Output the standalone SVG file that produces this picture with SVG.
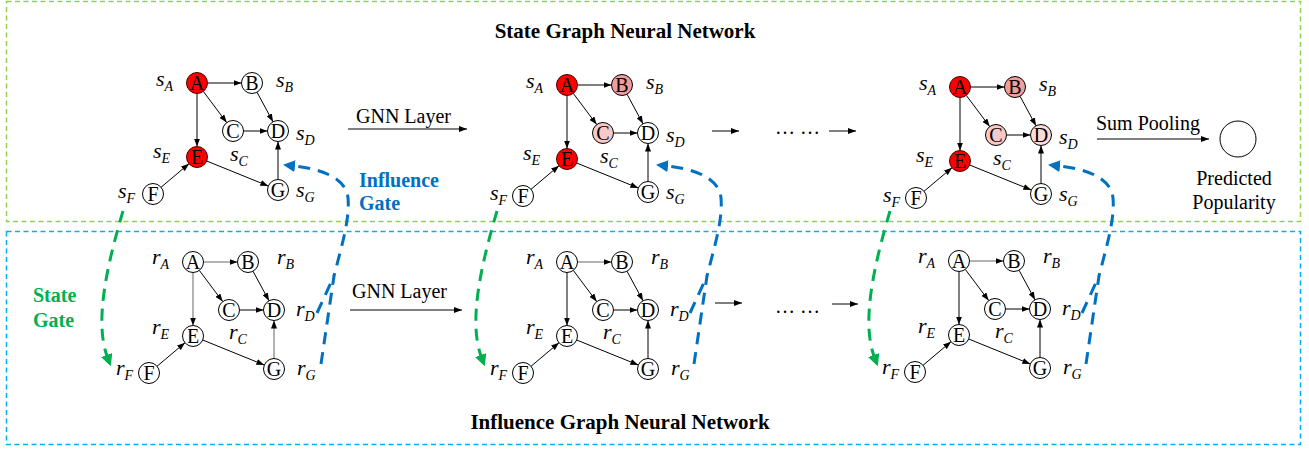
<svg xmlns="http://www.w3.org/2000/svg" width="1309" height="450" viewBox="0 0 1309 450">
<style>
.bg{fill:#ffffff}
.box-s{fill:none;stroke:#92d050;stroke-width:1.5;stroke-dasharray:5 3.5}
.box-i{fill:none;stroke:#00b0f0;stroke-width:1.5;stroke-dasharray:5 3.5}
.title{font-family:"Liberation Serif",serif;font-weight:bold;font-size:21px;fill:#000;text-anchor:middle}
.lbl{font-family:"Liberation Serif",serif;font-size:20px;fill:#000}
.nl{font-family:"Liberation Serif",serif;font-size:20px;fill:#000;text-anchor:middle}
.m{font-family:"Liberation Serif",serif;font-style:italic;font-size:22px;fill:#000}
.sub{font-size:14px}
.n{stroke:#000;stroke-width:1;fill:#fff}
.red{fill:#ff0000;stroke:#400;stroke-width:1}
.p1{fill:#f29c9c;stroke:#000;stroke-width:1}
.p2{fill:#f9c9c9;stroke:#000;stroke-width:1}
.p3{fill:#fcdada;stroke:#000;stroke-width:1}
.e{stroke:#000;stroke-width:1;fill:none;marker-end:url(#ah)}
.eg{stroke:#666;stroke-width:1;fill:none;marker-end:url(#ah)}
.ga{stroke:#000;stroke-width:1;fill:none;marker-end:url(#ah)}
.green{stroke:#00b050;stroke-width:3;fill:none;stroke-dasharray:12 8}
.blue{stroke:#0070c0;stroke-width:3;fill:none;stroke-dasharray:12 8}
.gtxt{font-family:"Liberation Serif",serif;font-weight:bold;font-size:20px;fill:#00b050}
.btxt{font-family:"Liberation Serif",serif;font-weight:bold;font-size:20px;fill:#0070c0}
</style>
<defs>
<marker id="ah" markerWidth="8" markerHeight="6" refX="8" refY="3" orient="auto" markerUnits="userSpaceOnUse"><path d="M0,0 L8,3 L0,6 z" fill="#000"/></marker>
<marker id="ahg" markerWidth="12" markerHeight="12" refX="1" refY="6" orient="auto" markerUnits="userSpaceOnUse"><path d="M0,0 L12,6 L0,12 z" fill="#00b050"/></marker>
<marker id="ahb" markerWidth="12" markerHeight="12" refX="1" refY="6" orient="auto" markerUnits="userSpaceOnUse"><path d="M0,0 L12,6 L0,12 z" fill="#0070c0"/></marker>
</defs>
<rect class="bg" x="0" y="0" width="1309" height="450"/>
<g id="frames">
<rect class="box-s" x="6.5" y="1.5" width="1294" height="220"/>
<rect class="box-i" x="6.5" y="231.5" width="1294" height="213"/>
</g>
<g id="titles">
<text class="title" x="625" y="38">State Graph Neural Network</text>
<text class="title" x="620" y="429">Influence Graph Neural Network</text>
<text class="lbl" x="356" y="123">GNN Layer</text>
<text class="lbl" x="352" y="298">GNN Layer</text>
<text class="lbl" x="1096" y="130">Sum Pooling</text>
<text class="lbl" x="1234" y="185" text-anchor="middle">Predicted</text>
<text class="lbl" x="1234" y="209" text-anchor="middle">Popularity</text>
<text class="lbl" x="775" y="134">… …</text>
<text class="lbl" x="775" y="313">… …</text>
<text class="btxt" x="359" y="187">Influence</text>
<text class="btxt" x="359" y="210">Gate</text>
<text class="gtxt" x="33" y="302">State</text>
<text class="gtxt" x="33" y="327">Gate</text>
</g>
<g id="output-node"><circle class="n" cx="1238" cy="139" r="18"/></g>

<g id="connectors">
<path class="ga" d="M348,129 L467,129"/>
<path class="ga" d="M350,310 L462,310"/>
<path class="ga" d="M712,131 L739,131"/>
<path class="ga" d="M829,131 L856,131"/>
<path class="ga" d="M715,303 L742,303"/>
<path class="ga" d="M832,304 L858,304"/>
<path class="ga" d="M1097,139 L1209,139"/>
<g id="edges-t1" transform="translate(197,83)">
<path class="e" d="M10.5,0 L44.5,0"/><path class="e" d="M6.3,8.4 L29.7,39.6"/><path class="e" d="M0,10.5 L0,63.5"/><path class="e" d="M60,9.2 L76,38.8"/><path class="e" d="M46.5,48 L70.5,48"/><path class="e" d="M9.7,78 L71.3,103"/><path class="e" d="M-36,104.3 L-8,80.7"/><path class="e" d="M81,96.5 L81,58.5"/>
</g>
<g id="edges-t2" transform="translate(567,85)">
<path class="e" d="M10.5,0 L44.5,0"/><path class="e" d="M6.3,8.4 L29.7,39.6"/><path class="e" d="M0,10.5 L0,63.5"/><path class="e" d="M60,9.2 L76,38.8"/><path class="e" d="M46.5,48 L70.5,48"/><path class="e" d="M9.7,78 L71.3,103"/><path class="e" d="M-36,104.3 L-8,80.7"/><path class="e" d="M81,96.5 L81,58.5"/>
</g>
<g id="edges-t3" transform="translate(960,87)">
<path class="e" d="M10.5,0 L44.5,0"/><path class="e" d="M6.3,8.4 L29.7,39.6"/><path class="e" d="M0,10.5 L0,63.5"/><path class="e" d="M60,9.2 L76,38.8"/><path class="e" d="M46.5,48 L70.5,48"/><path class="e" d="M9.7,78 L71.3,103"/><path class="e" d="M-36,104.3 L-8,80.7"/><path class="e" d="M81,96.5 L81,58.5"/>
</g>
<g id="edges-b1" transform="translate(193,262)">
<path class="eg" d="M10.5,0 L44.5,0"/><path class="e" d="M6.3,8.4 L29.7,39.6"/><path class="eg" d="M0,10.5 L0,63.5"/><path class="e" d="M60,9.2 L76,38.8"/><path class="e" d="M46.5,48 L70.5,48"/><path class="e" d="M9.7,78 L71.3,103"/><path class="e" d="M-36,104.3 L-8,80.7"/><path class="eg" d="M81,96.5 L81,58.5"/>
</g>
<g id="edges-b2" transform="translate(567,262)">
<path class="eg" d="M10.5,0 L44.5,0"/><path class="e" d="M6.3,8.4 L29.7,39.6"/><path class="e" d="M0,10.5 L0,63.5"/><path class="e" d="M60,9.2 L76,38.8"/><path class="e" d="M46.5,48 L70.5,48"/><path class="e" d="M9.7,78 L71.3,103"/><path class="e" d="M-36,104.3 L-8,80.7"/><path class="e" d="M81,96.5 L81,58.5"/>
</g>
<g id="edges-b3" transform="translate(959,261)">
<path class="eg" d="M10.5,0 L44.5,0"/><path class="e" d="M6.3,8.4 L29.7,39.6"/><path class="e" d="M0,10.5 L0,63.5"/><path class="e" d="M60,9.2 L76,38.8"/><path class="e" d="M46.5,48 L70.5,48"/><path class="e" d="M9.7,78 L71.3,103"/><path class="e" d="M-36,104.3 L-8,80.7"/><path class="e" d="M81,96.5 L81,58.5"/>
</g>
<g id="gates-1">
<path class="green" d="M123,211 C108,262 94,320 107,356" marker-end="url(#ahg)"/>
<path class="blue" d="M321,364 L334,276 C341,248 350,220 348,198 C346,178 322,169 294,166" marker-end="url(#ahb)"/>
<path class="blue" d="M317,313 L334,276"/>
</g>
<g id="gates-2" transform="translate(374,0)">
<path class="green" d="M123,211 C108,262 94,320 107,356" marker-end="url(#ahg)"/>
</g>
<g id="gates-2b" transform="translate(373,0)">
<path class="blue" d="M321,364 L334,276 C341,248 350,220 348,198 C346,178 322,169 294,166" marker-end="url(#ahb)"/>
<path class="blue" d="M317,313 L334,276"/>
</g>
<g id="gates-3" transform="translate(767,0)">
<path class="green" d="M123,211 C108,262 94,320 107,356" marker-end="url(#ahg)"/>
</g>
<g id="gates-3b" transform="translate(765,0)">
<path class="blue" d="M321,364 L334,276 C341,248 350,220 348,198 C346,178 322,169 294,166" marker-end="url(#ahb)"/>
<path class="blue" d="M317,313 L334,276"/>
</g>
</g>

<g id="state-graph-1" transform="translate(197,83)">
<g id="t1-A"><circle class="red" cx="0" cy="0" r="10.5"/><text class="nl" x="0" y="6.8">A</text></g>
<g id="t1-B"><circle class="n" cx="55" cy="0" r="10.5"/><text class="nl" x="55" y="6.8">B</text></g>
<g id="t1-C"><circle class="n" cx="36" cy="48" r="10.5"/><text class="nl" x="36" y="54.8">C</text></g>
<g id="t1-D"><circle class="n" cx="81" cy="48" r="10.5"/><text class="nl" x="81" y="54.8">D</text></g>
<g id="t1-E"><circle class="red" cx="0" cy="74" r="10.5"/><text class="nl" x="0" y="80.8">E</text></g>
<g id="t1-F"><circle class="n" cx="-44" cy="111" r="10.5"/><text class="nl" x="-44" y="117.8">F</text></g>
<g id="t1-G"><circle class="n" cx="81" cy="107" r="10.5"/><text class="nl" x="81" y="113.8">G</text></g>
<text class="m" x="-41" y="3">s<tspan class="sub" dy="5">A</tspan></text>
<text class="m" x="79" y="4">s<tspan class="sub" dy="5">B</tspan></text>
<text class="m" x="99" y="57">s<tspan class="sub" dy="5">D</tspan></text>
<text class="m" x="-44" y="75">s<tspan class="sub" dy="5">E</tspan></text>
<text class="m" x="33" y="78">s<tspan class="sub" dy="5">C</tspan></text>
<text class="m" x="-79" y="115">s<tspan class="sub" dy="5">F</tspan></text>
<text class="m" x="99" y="114">s<tspan class="sub" dy="5">G</tspan></text>
</g>

<g id="state-graph-2" transform="translate(567,85)">
<g id="t2-A"><circle class="red" cx="0" cy="0" r="10.5"/><text class="nl" x="0" y="6.8">A</text></g>
<g id="t2-B"><circle class="p1" cx="55" cy="0" r="10.5"/><text class="nl" x="55" y="6.8">B</text></g>
<g id="t2-C"><circle class="p2" cx="36" cy="48" r="10.5"/><text class="nl" x="36" y="54.8">C</text></g>
<g id="t2-D"><circle class="n" cx="81" cy="48" r="10.5"/><text class="nl" x="81" y="54.8">D</text></g>
<g id="t2-E"><circle class="red" cx="0" cy="74" r="10.5"/><text class="nl" x="0" y="80.8">E</text></g>
<g id="t2-F"><circle class="n" cx="-44" cy="111" r="10.5"/><text class="nl" x="-44" y="117.8">F</text></g>
<g id="t2-G"><circle class="n" cx="81" cy="107" r="10.5"/><text class="nl" x="81" y="113.8">G</text></g>
<text class="m" x="-41" y="3">s<tspan class="sub" dy="5">A</tspan></text>
<text class="m" x="79" y="4">s<tspan class="sub" dy="5">B</tspan></text>
<text class="m" x="99" y="57">s<tspan class="sub" dy="5">D</tspan></text>
<text class="m" x="-44" y="75">s<tspan class="sub" dy="5">E</tspan></text>
<text class="m" x="33" y="78">s<tspan class="sub" dy="5">C</tspan></text>
<text class="m" x="-77" y="115">s<tspan class="sub" dy="5">F</tspan></text>
<text class="m" x="99" y="114">s<tspan class="sub" dy="5">G</tspan></text>
</g>

<g id="state-graph-3" transform="translate(960,87)">
<g id="t3-A"><circle class="red" cx="0" cy="0" r="10.5"/><text class="nl" x="0" y="6.8">A</text></g>
<g id="t3-B"><circle class="p1" cx="55" cy="0" r="10.5"/><text class="nl" x="55" y="6.8">B</text></g>
<g id="t3-C"><circle class="p2" cx="36" cy="48" r="10.5"/><text class="nl" x="36" y="54.8">C</text></g>
<g id="t3-D"><circle class="p3" cx="81" cy="48" r="10.5"/><text class="nl" x="81" y="54.8">D</text></g>
<g id="t3-E"><circle class="red" cx="0" cy="74" r="10.5"/><text class="nl" x="0" y="80.8">E</text></g>
<g id="t3-F"><circle class="n" cx="-44" cy="111" r="10.5"/><text class="nl" x="-44" y="117.8">F</text></g>
<g id="t3-G"><circle class="n" cx="81" cy="107" r="10.5"/><text class="nl" x="81" y="113.8">G</text></g>
<text class="m" x="-41" y="3">s<tspan class="sub" dy="5">A</tspan></text>
<text class="m" x="79" y="4">s<tspan class="sub" dy="5">B</tspan></text>
<text class="m" x="99" y="57">s<tspan class="sub" dy="5">D</tspan></text>
<text class="m" x="-44" y="75">s<tspan class="sub" dy="5">E</tspan></text>
<text class="m" x="33" y="78">s<tspan class="sub" dy="5">C</tspan></text>
<text class="m" x="-77" y="115">s<tspan class="sub" dy="5">F</tspan></text>
<text class="m" x="99" y="114">s<tspan class="sub" dy="5">G</tspan></text>
</g>

<g id="influence-graph-1" transform="translate(193,262)">
<g id="b1-A"><circle class="n" cx="0" cy="0" r="10.5"/><text class="nl" x="0" y="6.8">A</text></g>
<g id="b1-B"><circle class="n" cx="55" cy="0" r="10.5"/><text class="nl" x="55" y="6.8">B</text></g>
<g id="b1-C"><circle class="n" cx="36" cy="48" r="10.5"/><text class="nl" x="36" y="54.8">C</text></g>
<g id="b1-D"><circle class="n" cx="81" cy="48" r="10.5"/><text class="nl" x="81" y="54.8">D</text></g>
<g id="b1-E"><circle class="n" cx="0" cy="74" r="10.5"/><text class="nl" x="0" y="80.8">E</text></g>
<g id="b1-F"><circle class="n" cx="-44" cy="111" r="10.5"/><text class="nl" x="-44" y="117.8">F</text></g>
<g id="b1-G"><circle class="n" cx="81" cy="107" r="10.5"/><text class="nl" x="81" y="113.8">G</text></g>
<text class="m" x="-41" y="2">r<tspan class="sub" dy="5">A</tspan></text>
<text class="m" x="84" y="2">r<tspan class="sub" dy="5">B</tspan></text>
<text class="m" x="103" y="54">r<tspan class="sub" dy="5">D</tspan></text>
<text class="m" x="-41" y="72">r<tspan class="sub" dy="5">E</tspan></text>
<text class="m" x="36" y="77">r<tspan class="sub" dy="5">C</tspan></text>
<text class="m" x="-77" y="113">r<tspan class="sub" dy="5">F</tspan></text>
<text class="m" x="104" y="113">r<tspan class="sub" dy="5">G</tspan></text>
</g>

<g id="influence-graph-2" transform="translate(567,262)">
<g id="b2-A"><circle class="n" cx="0" cy="0" r="10.5"/><text class="nl" x="0" y="6.8">A</text></g>
<g id="b2-B"><circle class="n" cx="55" cy="0" r="10.5"/><text class="nl" x="55" y="6.8">B</text></g>
<g id="b2-C"><circle class="n" cx="36" cy="48" r="10.5"/><text class="nl" x="36" y="54.8">C</text></g>
<g id="b2-D"><circle class="n" cx="81" cy="48" r="10.5"/><text class="nl" x="81" y="54.8">D</text></g>
<g id="b2-E"><circle class="n" cx="0" cy="74" r="10.5"/><text class="nl" x="0" y="80.8">E</text></g>
<g id="b2-F"><circle class="n" cx="-44" cy="111" r="10.5"/><text class="nl" x="-44" y="117.8">F</text></g>
<g id="b2-G"><circle class="n" cx="81" cy="107" r="10.5"/><text class="nl" x="81" y="113.8">G</text></g>
<text class="m" x="-41" y="2">r<tspan class="sub" dy="5">A</tspan></text>
<text class="m" x="84" y="2">r<tspan class="sub" dy="5">B</tspan></text>
<text class="m" x="103" y="54">r<tspan class="sub" dy="5">D</tspan></text>
<text class="m" x="-41" y="72">r<tspan class="sub" dy="5">E</tspan></text>
<text class="m" x="36" y="77">r<tspan class="sub" dy="5">C</tspan></text>
<text class="m" x="-77" y="113">r<tspan class="sub" dy="5">F</tspan></text>
<text class="m" x="104" y="113">r<tspan class="sub" dy="5">G</tspan></text>
</g>

<g id="influence-graph-3" transform="translate(959,261)">
<g id="b3-A"><circle class="n" cx="0" cy="0" r="10.5"/><text class="nl" x="0" y="6.8">A</text></g>
<g id="b3-B"><circle class="n" cx="55" cy="0" r="10.5"/><text class="nl" x="55" y="6.8">B</text></g>
<g id="b3-C"><circle class="n" cx="36" cy="48" r="10.5"/><text class="nl" x="36" y="54.8">C</text></g>
<g id="b3-D"><circle class="n" cx="81" cy="48" r="10.5"/><text class="nl" x="81" y="54.8">D</text></g>
<g id="b3-E"><circle class="n" cx="0" cy="74" r="10.5"/><text class="nl" x="0" y="80.8">E</text></g>
<g id="b3-F"><circle class="n" cx="-44" cy="111" r="10.5"/><text class="nl" x="-44" y="117.8">F</text></g>
<g id="b3-G"><circle class="n" cx="81" cy="107" r="10.5"/><text class="nl" x="81" y="113.8">G</text></g>
<text class="m" x="-41" y="2">r<tspan class="sub" dy="5">A</tspan></text>
<text class="m" x="84" y="2">r<tspan class="sub" dy="5">B</tspan></text>
<text class="m" x="103" y="54">r<tspan class="sub" dy="5">D</tspan></text>
<text class="m" x="-41" y="72">r<tspan class="sub" dy="5">E</tspan></text>
<text class="m" x="36" y="77">r<tspan class="sub" dy="5">C</tspan></text>
<text class="m" x="-77" y="113">r<tspan class="sub" dy="5">F</tspan></text>
<text class="m" x="104" y="113">r<tspan class="sub" dy="5">G</tspan></text>
</g>
</svg>
